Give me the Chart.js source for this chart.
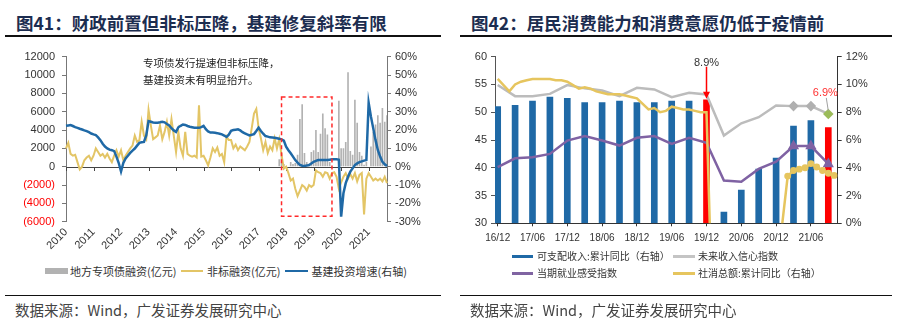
<!DOCTYPE html>
<html>
<head>
<meta charset="utf-8">
<script src="https://cdn.jsdelivr.net/npm/chart.js@4.4.1/dist/chart.umd.min.js"></script>
<style>
  body { margin: 0; width: 905px; height: 328px; background: #fff; position: relative; overflow: hidden;
         font-family: "Noto Sans CJK SC", sans-serif; }
  .abs { position: absolute; white-space: nowrap; line-height: 1; }
  .mid { transform: translateY(-50%); }
  .title { font-size: 17.5px; font-weight: 700; color: #1c2d50; }
  .rule { position: absolute; height: 1.5px; background: #111; }
  .src { font-size: 14.5px; color: #444; }
  .lg1 { font-size: 11px; color: #333; }
  .lg2 { font-size: 10px; color: #333; }
  .sw { position: absolute; }
  .box { position: absolute; }
</style>
</head>
<body>

<!-- left panel -->
<div class="abs mid title" style="left:16px;top:23px">图41：财政前置但非标压降，基建修复斜率有限</div>
<div class="rule" style="left:5px;width:436px;top:35px"></div>
<div class="box" style="left:0;top:40px;width:450px;height:212px"><canvas id="c1"></canvas></div>
<div class="abs" style="left:143px;top:55px;font-size:10.5px;line-height:16.7px;color:#222">专项债发行提速但非标压降，<br>基建投资未有明显抬升。</div>
<div class="sw" style="left:45px;top:268px;width:23px;height:5.5px;background:#b2b2b2"></div>
<div class="abs mid lg1" style="left:70px;top:270.7px">地方专项债融资(亿元)</div>
<div class="sw" style="left:181px;top:269.5px;width:22px;height:2.5px;background:#e3c566"></div>
<div class="abs mid lg1" style="left:207px;top:270.7px">非标融资(亿元)</div>
<div class="sw" style="left:285px;top:269.5px;width:23px;height:2.5px;background:#1f69a6"></div>
<div class="abs mid lg1" style="left:311.5px;top:270.7px">基建投资增速(右轴)</div>
<div class="rule" style="left:5px;width:436px;top:294.5px"></div>
<div class="abs mid src" style="left:15px;top:310px">数据来源：Wind，广发证券发展研究中心</div>

<!-- right panel -->
<div class="abs mid title" style="left:471px;top:23px">图42：居民消费能力和消费意愿仍低于疫情前</div>
<div class="rule" style="left:460px;width:432px;top:35px"></div>
<div class="box" style="left:455px;top:40px;width:450px;height:212px"><canvas id="c2"></canvas></div>
<div class="sw" style="left:512px;top:254.5px;width:21px;height:3px;background:#1f69a6"></div>
<div class="abs mid lg2" style="left:537px;top:256px">可支配收入:累计同比（右轴）</div>
<div class="sw" style="left:673px;top:254.5px;width:22px;height:3px;background:#c4c4c4"></div>
<div class="abs mid lg2" style="left:698px;top:256px">未来收入信心指数</div>
<div class="sw" style="left:512px;top:271.8px;width:21px;height:3px;background:#8064a2"></div>
<div class="abs mid lg2" style="left:537px;top:273.3px">当期就业感受指数</div>
<div class="sw" style="left:673px;top:271.8px;width:22px;height:3px;background:#e6c55e"></div>
<div class="abs mid lg2" style="left:698px;top:273.3px">社消总额:累计同比（右轴）</div>
<div class="rule" style="left:460px;width:432px;top:294.5px"></div>
<div class="abs mid src" style="left:470px;top:310px">数据来源：Wind，广发证券发展研究中心</div>

<script>
// ---------- Chart 41 data (monthly, 2010-01 .. 2021-09) ----------
const months = [];
for (let yr = 2010; yr <= 2021; yr++) {
  for (let mo = 1; mo <= 12; mo++) {
    if (yr === 2021 && mo > 9) break;
    months.push(yr + '-' + String(mo).padStart(2, '0'));
  }
}

// 基建投资增速 (%), right axis
const infraYoY = [
  22.3, 22.5, 22.7, 22.2, 21.6, 21.2, 20.7, 20.3, 19.8, 19.4, 18.8, 18.1,
  17.6, 17.2, 16.0, 14.5, 12.5, 11.0, 10.0, 9.3, 9.0, 8.5, 5.5, 2.0,
  -2.6, 2.0, 4.5, 6.0, 7.5, 8.8, 9.9, 11.5, 13.0, 13.3, 13.5, 17.0,
  24.9, 24.5, 24.1, 24.0, 24.0, 24.2, 24.5, 24.2, 23.3, 22.5, 21.0, 19.8,
  19.0, 21.5, 22.3, 23.0, 22.8, 22.2, 21.8, 21.5, 21.2, 21.2, 21.2, 21.6,
  22.3, 20.5, 19.2, 18.6, 18.6, 18.5, 18.3, 18.0, 17.6, 17.0, 16.2, 17.5,
  19.6, 20.0, 20.2, 20.4, 19.8, 18.8, 18.2, 17.6, 17.1, 17.4, 17.8, 19.5,
  21.3, 19.5, 18.0, 16.7, 16.4, 16.0, 15.9, 15.8, 15.5, 15.2, 14.9, 14.2,
  10.9, 9.0, 7.3, 5.5, 3.6, 2.2, 1.0, 0.5, 0.4, 0.6, 0.9, 1.8,
  2.7, 3.2, 3.6, 3.6, 3.6, 3.6, 3.6, 3.8, 4.0, 4.0, 4.0, 3.8,
  -27.3, -14.5, -9.0, -5.5, -2.7, -0.9, 0.9, 1.8, 2.5, 2.9, 3.3, 3.6,
  34.9, 27.3, 20.9, 14.5, 9.1, 5.5, 2.7, 1.3, 0.4
];

// 非标融资 (亿元), left axis
const nonStd = [
  2000, 2600, 1400, 1200, 1300, 500, -300, 0, 700, 1000, 1200, 700,
  1200, 2000, 1600, 1200, 1400, 1000, 1400, 900, 500, 1200, 1800, 1100,
  1800, 700, 1200, 1600, 2000, 2300, 3400, 2700, 2900, 4900, 3400, 3000,
  6200, 4500, 3000, 3200, 3400, 4500, 3000, 3800, 4900, 3400, 5200, 3400,
  1600, 3800, 2000, 1200, 3800, 1400, 1200, 1100, 1200, 1000, 6700, 1100,
  1200, 700, 150, 1000, 2000, 1600, 2100, 1200, 1400, 500, 3300, 2900,
  2900, 2000, 2400, 1800, 2200, 2000, 1800, 2200, 2700, 4200, 5800, 6300,
  4200, 3100, 1800, 2700, 1500, 2200, 1800, 3100, 2000, 3000, 1300, -200,
  0, -700, -1500, -1300, -2400, -3200, -2600, -2000, -2200, -2600, -2000, -2200,
  -2000, -400, -600, -700, -1100, -600, -700, -1300, -700, -600, -1100, -2400,
  -1700, -1100, -700, -1300, -800, -1300, -700, -1600, -900, -700, -5200, -1300,
  -700, -1100, -1500, -1300, -1500, -1300, -1600, -1100, -1800
];

// 地方专项债融资 (亿元), from 2017-10
const bondStart = '2017-10';
const bondValues = [
  800, 1500, 300,
  0, 0, 500, 300, 400, 1300, 5200, 6800, 1500, 500, 300, 1600,
  1800, 4000, 1600, 3600, 5800, 4200, 3500, 500, 0, 0, 0, 7200,
  2000, 2000, 2700, 10300, 1700, 1300, 7300, 4800, 1600, 1200, 200, 500,
  0, 2200, 3800, 4600, 5600, 4800, 6400, 4900, 5600
];

// axis tick values
const leftTicks = [-6000, -4000, -2000, 0, 2000, 4000, 6000, 8000, 10000, 12000];
const rightTicks = [-30, -20, -10, 0, 10, 20, 30, 40, 50, 60];

// red dashed highlight box
const boxMonths = ['2017-11', '2019-09'];
const boxTop = 7600, boxBottom = -5400;

// ---------- Chart 42 data (quarterly) ----------
const quarters = ['16/12','17/03','17/06','17/09','17/12','18/03','18/06','18/09','18/12','19/03',
                  '19/06','19/09','19/12','20/03','20/06','20/09','20/12','21/03','21/06','21/09'];
const incomeYoY = [8.4, 8.5, 8.8, 9.1, 9.0, 8.7, 8.7, 8.8, 8.7, 8.7, 8.8, 8.8, 8.9, 0.8, 2.4, 3.9, 4.7, 7.0, 7.4, 6.9];
const futureIncome = [54.9, 52.9, 52.9, 53.3, 54.9, 54.3, 53.9, 52.9, 54.4, 54.1, 52.7, 53.5, 53.2, 45.8, 48.0, 49.1, 51.2, 51.1, 51.1, 49.7];
const employment = [40.1, 41.7, 41.9, 42.5, 44.9, 45.7, 44.9, 44.0, 45.4, 45.7, 44.3, 45.4, 44.5, 37.7, 37.5, 39.8, 41.1, 43.9, 43.9, 40.7];
const retailMonths = ['16/12','17/02','17/03','17/04','17/05','17/06','17/07','17/08','17/09','17/10','17/11','17/12',
  '18/02','18/03','18/04','18/05','18/06','18/07','18/08','18/09','18/10','18/11','18/12',
  '19/02','19/03','19/04','19/05','19/06','19/07','19/08','19/09','19/10','19/11','19/12',
  '20/02','20/03','20/04','20/05','20/06','20/07','20/08','20/09','20/10','20/11','20/12',
  '21/02','21/03','21/04','21/05','21/06','21/07','21/08','21/09','21/10'];
const retailYoY = [10.4,
  9.5, 10.0, 10.2, 10.3, 10.4, 10.4, 10.4, 10.4, 10.3, 10.3, 10.2,
  9.7, 9.8, 9.7, 9.5, 9.4, 9.3, 9.3, 9.3, 9.2, 9.1, 9.0,
  8.2, 8.3, 8.0, 8.1, 8.4, 8.3, 8.2, 8.2, 8.1, 8.0, 8.0,
  -20.5, -19.0, -16.2, -13.5, -11.4, -9.9, -8.6, -7.2, -5.9, -4.8, -3.9,
  3.4, 3.8, 3.9, 4.0, 4.3, 4.05, 3.8, 3.6, 3.45];
const xTickLabels = ['16/12','17/06','17/12','18/06','18/12','19/06','19/12','20/06','20/12','21/06'];
const redQuarters = ['19/12', '21/09'];
const arrowQuarter = '19/12';
const lastQuarter = '21/09';

// "yy/mm" -> position in quarters after 16/12
function qPos(s) {
  const [yy, mm] = s.split('/').map(Number);
  return ((yy - 16) * 12 + mm - 12) / 3;
}

Chart.defaults.font.family = '"Liberation Sans", Arial, sans-serif';
Chart.defaults.font.size = 11;
Chart.defaults.color = '#333';

// ------------------ Chart 41 ------------------
const bondIdx = months.indexOf(bondStart);
const bondData = months.map((m, i) => i >= bondIdx ? bondValues[i - bondIdx] : null);

const leftMarks = {
  id: 'leftMarks',
  beforeDatasetsDraw(chart) {
    const { ctx, chartArea, scales: { x, y } } = chart;
    const y0 = Math.round(y.getPixelForValue(0)) + 0.5;
    ctx.save();
    ctx.strokeStyle = '#444';
    ctx.lineWidth = 1;
    ctx.beginPath();
    ctx.moveTo(chartArea.left, y0);
    ctx.lineTo(chartArea.right, y0);
    ctx.stroke();
    months.forEach((m, i) => {
      if (!m.endsWith('-01')) return;
      const px = Math.round(x.getPixelForValue(i)) + 0.5;
      ctx.beginPath();
      ctx.moveTo(px, y0);
      ctx.lineTo(px, y0 + 3.5);
      ctx.stroke();
    });
    ctx.restore();
  },
  afterDatasetsDraw(chart) {
    const { ctx, scales: { x, y } } = chart;
    const l = x.getPixelForValue(months.indexOf(boxMonths[0]));
    const r = x.getPixelForValue(months.indexOf(boxMonths[1]));
    const t = y.getPixelForValue(boxTop);
    const b = y.getPixelForValue(boxBottom);
    ctx.save();
    ctx.setLineDash([4, 3]);
    ctx.strokeStyle = '#ff2a2a';
    ctx.lineWidth = 1.5;
    ctx.strokeRect(l, t, r - l, b - t);
    ctx.restore();
  }
};

new Chart(document.getElementById('c1'), {
  type: 'bar',
  data: {
    labels: months,
    datasets: [
      { type: 'line', label: '基建投资增速(右轴)', data: infraYoY, yAxisID: 'y1',
        borderColor: '#1f69a6', borderWidth: 2.5, pointRadius: 0, order: 0 },
      { type: 'line', label: '非标融资(亿元)', data: nonStd, yAxisID: 'y',
        borderColor: '#e3c566', borderWidth: 2, pointRadius: 0, order: 1 },
      { type: 'bar', label: '地方专项债融资(亿元)', data: bondData, yAxisID: 'y',
        backgroundColor: '#b2b2b2', barPercentage: 0.9, categoryPercentage: 0.8, order: 2 }
    ]
  },
  options: {
    responsive: true,
    maintainAspectRatio: false,
    animation: false,
    layout: { padding: { top: 16.7, left: 0, right: 0, bottom: 0 } },
    plugins: { legend: { display: false }, tooltip: { enabled: false } },
    scales: {
      x: {
        type: 'category', offset: false,
        grid: { display: false, drawTicks: false, offset: false },
        border: { display: false },
        ticks: { autoSkip: false, maxRotation: 45, minRotation: 45, padding: 4,
                 callback: v => months[v].slice(0, 4) },
        afterBuildTicks: s => { s.ticks = s.ticks.filter(t => months[t.value].endsWith('-01')); },
        afterFit: s => { s.height = 30.3; }
      },
      y: {
        position: 'left', min: leftTicks[0], max: leftTicks[leftTicks.length - 1],
        ticks: { padding: 7,
                 color: c => c.tick && c.tick.value < 0 ? '#ff0000' : '#333',
                 callback: v => v < 0 ? '(' + (-v) + ')' : '' + v },
        afterBuildTicks: s => { s.ticks = leftTicks.map(v => ({ value: v })); },
        grid: { drawOnChartArea: false, tickColor: '#777', tickLength: 4 },
        border: { color: '#777' },
        afterFit: s => { s.width = 66; }
      },
      y1: {
        position: 'right', min: rightTicks[0], max: rightTicks[rightTicks.length - 1],
        ticks: { padding: 4, callback: v => v + '%' },
        afterBuildTicks: s => { s.ticks = rightTicks.map(v => ({ value: v })); },
        grid: { drawOnChartArea: false, tickColor: '#777', tickLength: 4 },
        border: { color: '#777' },
        afterFit: s => { s.width = 63; }
      }
    }
  },
  plugins: [leftMarks]
});

// ------------------ Chart 42 ------------------
const rightMarks = {
  id: 'rightMarks',
  afterDatasetsDraw(chart) {
    const { ctx, scales: { x, y, y1 } } = chart;
    ctx.save();
    // arrow + label at 19/12
    const ia = quarters.indexOf(arrowQuarter);
    const ax = x.getPixelForValue(qPos(arrowQuarter));
    const top = y1.getPixelForValue(incomeYoY[ia]);
    ctx.strokeStyle = '#ff0000';
    ctx.fillStyle = '#ff0000';
    ctx.lineWidth = 1.5;
    ctx.beginPath();
    ctx.moveTo(ax, top - 33);
    ctx.lineTo(ax, top - 6);
    ctx.stroke();
    ctx.beginPath();
    ctx.moveTo(ax - 3.5, top - 8);
    ctx.lineTo(ax + 3.5, top - 8);
    ctx.lineTo(ax, top - 1);
    ctx.closePath();
    ctx.fill();
    ctx.font = '11px "Liberation Sans", Arial, sans-serif';
    ctx.textAlign = 'center';
    ctx.textBaseline = 'middle';
    ctx.fillStyle = '#333';
    ctx.fillText(incomeYoY[ia].toFixed(1) + '%', ax, top - 37);
    // label + leader at 21/09
    const il = quarters.indexOf(lastQuarter);
    const lx = x.getPixelForValue(qPos(lastQuarter));
    const gy = y.getPixelForValue(futureIncome[il]);
    ctx.strokeStyle = '#a0a0a0';
    ctx.lineWidth = 1;
    ctx.beginPath();
    ctx.moveTo(lx - 2, gy - 16);
    ctx.lineTo(lx, gy - 3);
    ctx.stroke();
    ctx.fillStyle = '#ff3030';
    ctx.fillText(incomeYoY[il].toFixed(1) + '%', lx - 3, gy - 21);
    ctx.restore();
  }
};

const is2021 = q => q.startsWith('21');

new Chart(document.getElementById('c2'), {
  type: 'bar',
  data: {
    datasets: [
      { type: 'line', label: '社消总额:累计同比（右轴）', yAxisID: 'y1',
        data: retailMonths.map((m, i) => ({ x: qPos(m), y: retailYoY[i] })),
        borderColor: '#e6c55e', borderWidth: 2.5,
        pointRadius: c => is2021(retailMonths[c.dataIndex]) ? 2.2 : 0,
        pointBackgroundColor: '#e6c55e', pointBorderColor: '#e6c55e', order: 0 },
      { type: 'line', label: '当期就业感受指数', yAxisID: 'y',
        data: quarters.map((q, i) => ({ x: qPos(q), y: employment[i] })),
        borderColor: '#7f62a3', borderWidth: 2.5, pointStyle: 'triangle',
        pointRadius: c => is2021(quarters[c.dataIndex]) ? 4 : 0,
        pointBackgroundColor: '#7f62a3', pointBorderColor: '#7f62a3', order: 1 },
      { type: 'line', label: '未来收入信心指数', yAxisID: 'y',
        data: quarters.map((q, i) => ({ x: qPos(q), y: futureIncome[i] })),
        borderColor: '#bcbcbc', borderWidth: 2.5, pointStyle: 'rectRot',
        pointRadius: c => is2021(quarters[c.dataIndex]) ? 3.5 : 0,
        pointBackgroundColor: c => quarters[c.dataIndex] === lastQuarter ? '#9bbb59' : '#b0b0b0',
        pointBorderColor: c => quarters[c.dataIndex] === lastQuarter ? '#9bbb59' : '#b0b0b0', order: 2 },
      { type: 'bar', label: '可支配收入:累计同比（右轴）', yAxisID: 'y1',
        data: quarters.map((q, i) => ({ x: qPos(q), y: incomeYoY[i] })),
        backgroundColor: c => redQuarters.includes(quarters[c.dataIndex]) ? '#ff0000' : '#1f69a6',
        barThickness: 6, order: 3 }
    ]
  },
  options: {
    responsive: true,
    maintainAspectRatio: false,
    animation: false,
    layout: { padding: { top: 16.7, left: 0, right: 0, bottom: 0 } },
    plugins: { legend: { display: false }, tooltip: { enabled: false } },
    scales: {
      x: {
        type: 'linear', offset: false, min: -0.155, max: 19.54,
        grid: { drawOnChartArea: false, offset: false, tickLength: 3, tickColor: '#333' },
        border: { color: '#333' },
        ticks: { padding: 6, autoSkip: false, font: { size: 10 },
                 callback: v => xTickLabels.find(l => qPos(l) === v) || '' },
        afterBuildTicks: s => { s.ticks = xTickLabels.map(l => ({ value: qPos(l) })); },
        afterFit: s => { s.height = 28.7; }
      },
      y: {
        position: 'left', min: 30, max: 60,
        ticks: { stepSize: 5, padding: 4, autoSkip: false },
        grid: { drawOnChartArea: false, tickColor: '#555', tickLength: 4 },
        border: { color: '#555' },
        afterFit: s => { s.width = 40; }
      },
      y1: {
        position: 'right', min: 0, max: 12,
        ticks: { stepSize: 2, padding: 4, autoSkip: false, callback: v => v + '%' },
        grid: { drawOnChartArea: false, tickColor: '#333', tickLength: 4 },
        border: { color: '#333' },
        afterFit: s => { s.width = 67.3; }
      }
    }
  },
  plugins: [rightMarks]
});
</script>
</body>
</html>
